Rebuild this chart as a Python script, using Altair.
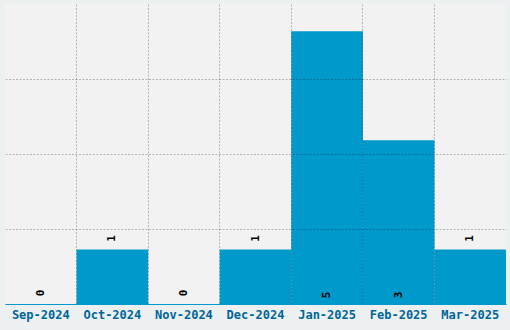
import altair as alt
import pandas as pd

months = ["Sep-2024", "Oct-2024", "Nov-2024", "Dec-2024", "Jan-2025", "Feb-2025", "Mar-2025"]
counts = [0, 1, 0, 1, 5, 3, 1]

df = pd.DataFrame({"month": months, "count": counts})
df["inside"] = df["count"] >= 3

FONT = "DejaVu Sans Mono"

x = alt.X(
    "month:N", sort=months, title=None,
    scale=alt.Scale(paddingInner=0, paddingOuter=0),
    axis=alt.Axis(
        labelAngle=0, labelFont=FONT, labelFontSize=12, labelFontWeight="bold",
        labelColor="#006699", labelPadding=5, ticks=False,
        domainColor="#0099cc", domainWidth=1,
        grid=True, bandPosition=0, gridColor="black",
        gridOpacity=alt.condition(alt.datum.value == "Sep-2024", alt.value(0), alt.value(0.25)),
        gridDash=[2, 1.5], zindex=1,
    ),
)
y = alt.Y(
    "count:Q", title=None,
    scale=alt.Scale(domain=[0, 5.5], nice=False),
    axis=alt.Axis(
        values=[1.375, 2.75, 4.125], labels=False, ticks=False, domain=False,
        grid=True, gridColor="black", gridOpacity=0.25, gridDash=[2, 1.5], zindex=1,
    ),
)

base = alt.Chart(df)
bars = base.mark_bar(color="#0099cc").encode(x=x, y=y)

above = base.transform_filter("!datum.inside").mark_text(
    angle=270, font=FONT, fontSize=11, fontWeight="bold", color="black",
    align="center", baseline="middle", dx=11,
).encode(x=alt.X("month:N", sort=months), y="count:Q", text="count:Q")

inside = base.transform_filter("datum.inside").mark_text(
    angle=270, font=FONT, fontSize=11, fontWeight="bold", color="black",
    align="center", baseline="middle", dx=9,
).encode(x=alt.X("month:N", sort=months), y=alt.datum(0), text="count:Q")

chart = alt.layer(bars, above, inside).properties(
    width=501, height=300,
    autosize=alt.AutoSizeParams(type="none"),
    padding={"left": 5, "top": 4, "right": 4, "bottom": 26},
    background="#ecf0f1",
).configure_view(fill="#f2f2f2", stroke=None)

chart.save("out.html", embed_options={"renderer": "svg", "actions": False})
